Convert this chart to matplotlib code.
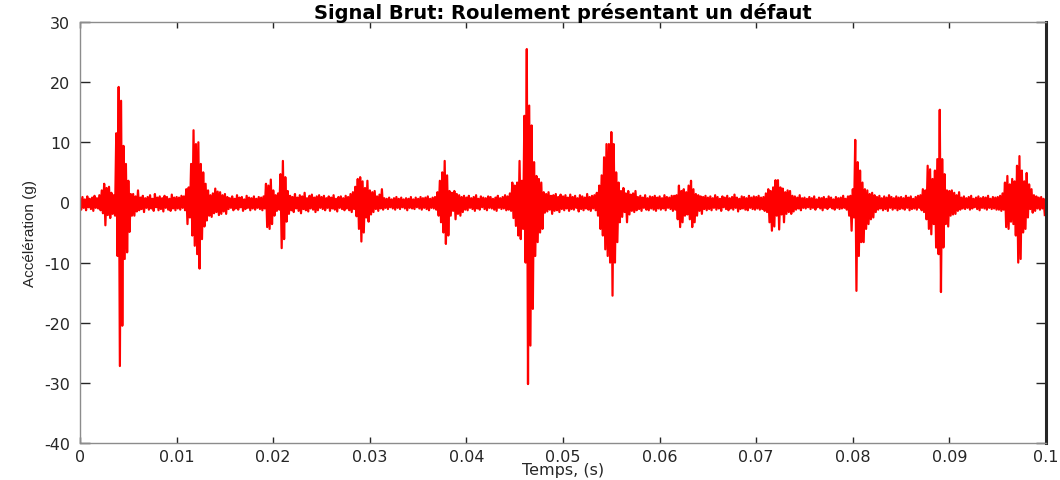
import numpy as np
import matplotlib
matplotlib.use("Agg")
import matplotlib.pyplot as plt

plt.rcParams["axes.unicode_minus"] = False
plt.rcParams["font.family"] = ["DejaVu Sans"]

# Signal brut : une colonne toutes les 0.25 ms,
# valeur haute (hi) et valeur basse (lo) de l'enveloppe dans chaque colonne
dt = 0.00025

hi = [
    0.7, 0.9, 0.5, 1.0, 0.6, 0.8, 1.1, 0.7, 1.2, 2.0, 3.1, 2.4, 2.6, 1.6, 1.2, 11.5, 19.2, 16.9, 9.4, 6.4,
    3.6, 1.4, 1.4, 1.0, 2.0, 0.8, 1.1, 0.7, 0.9, 1.2, 0.6, 1.4, 0.8, 1.0, 0.7, 1.1, 0.9, 0.6, 1.3, 0.8,
    0.9, 0.8, 1.1, 1.0, 2.2, 2.5, 6.4, 12.0, 9.7, 10.0, 6.4, 5.0, 3.1, 2.0, 1.2, 1.5, 2.3, 1.8, 1.7, 1.2,
    1.4, 0.9, 0.7, 1.0, 0.6, 1.2, 0.8, 0.9, 0.5, 1.1, 0.8, 0.7, 1.0, 0.6, 0.9, 0.8, 1.0, 3.1, 2.8, 3.8,
    2.0, 1.2, 1.5, 4.7, 6.9, 4.2, 1.9, 1.1, 0.9, 1.4, 0.8, 1.2, 1.0, 1.6, 0.7, 1.1, 1.3, 0.8, 1.0, 1.2,
    0.9, 1.1, 0.7, 1.0, 0.8, 1.2, 0.6, 0.9, 1.0, 0.7, 1.1, 0.9, 1.4, 1.7, 2.6, 3.9, 4.2, 3.5, 2.4, 3.6,
    2.0, 1.7, 1.9, 1.0, 1.3, 2.2, 0.7, 0.6, 0.8, 0.5, 0.7, 0.9, 0.6, 0.8, 0.5, 0.7, 0.6, 0.9, 0.5, 0.8,
    0.6, 0.9, 0.7, 0.8, 1.0, 0.6, 0.8, 0.9, 1.7, 3.6, 5.0, 6.9, 4.5, 1.9, 1.6, 1.9, 1.4, 1.2, 0.9, 1.1,
    0.8, 1.1, 0.7, 0.9, 1.2, 0.6, 1.0, 0.8, 0.7, 1.0, 0.9, 0.6, 0.8, 1.1, 0.7, 0.9, 1.2, 1.0, 1.5, 3.3,
    2.8, 3.3, 6.9, 3.6, 14.4, 25.5, 16.1, 12.8, 6.7, 4.4, 3.9, 3.3, 1.7, 1.4, 1.7, 1.1, 1.2, 1.4, 0.9, 1.3,
    1.0, 1.2, 0.8, 1.3, 0.9, 1.1, 0.7, 1.2, 1.0, 0.8, 1.4, 0.9, 1.1, 1.2, 1.6, 2.8, 4.5, 7.5, 9.7, 9.7,
    11.7, 9.7, 5.0, 3.3, 1.9, 2.4, 1.5, 1.9, 1.3, 1.5, 1.9, 0.9, 1.1, 0.8, 1.2, 0.7, 1.0, 0.9, 1.1, 0.8,
    1.0, 0.7, 1.2, 0.9, 0.8, 1.1, 1.1, 1.2, 2.8, 1.9, 2.2, 1.7, 2.8, 3.6, 2.2, 1.4, 1.2, 1.0, 0.9, 1.1,
    0.8, 1.0, 0.7, 1.2, 0.9, 0.6, 1.0, 0.8, 1.1, 0.7, 0.9, 1.3, 0.8, 0.6, 1.0, 0.9, 0.7, 1.1, 0.8, 1.0,
    0.9, 1.1, 0.8, 0.9, 1.5, 2.2, 1.9, 2.5, 3.7, 3.7, 2.5, 2.3, 1.7, 2.0, 1.9, 1.1, 1.0, 0.8, 1.2, 0.7,
    0.8, 0.6, 0.9, 0.7, 1.0, 0.5, 0.8, 0.7, 0.9, 0.6, 1.0, 0.8, 0.5, 0.9, 0.7, 0.8, 1.1, 0.6, 1.0, 1.1,
    2.2, 10.4, 6.7, 5.3, 3.3, 2.2, 2.0, 1.4, 1.6, 1.2, 0.9, 1.1, 0.7, 1.0, 0.8, 1.2, 0.9, 0.7, 1.0, 0.8,
    0.9, 0.7, 1.1, 0.8, 1.0, 0.6, 0.9, 1.1, 1.2, 2.2, 2.0, 6.1, 5.5, 3.9, 5.3, 7.2, 15.4, 7.2, 4.7, 2.0,
    1.9, 2.0, 1.6, 1.2, 1.7, 0.8, 1.0, 0.7, 0.9, 1.1, 0.6, 0.8, 1.0, 0.7, 0.9, 0.8, 1.1, 0.6, 0.9, 0.8,
    0.9, 1.1, 1.5, 3.3, 4.4, 3.0, 3.9, 3.5, 6.1, 7.7, 5.3, 3.5, 4.9, 3.0, 2.2, 1.2, 1.0, 0.8, 0.9, 0.6,
]

lo = [
    -1.2, -0.9, -1.3, -0.8, -1.1, -1.4, -0.9, -1.0, -1.3, -1.8, -3.8, -2.1, -2.6, -1.9, -2.2, -8.9, -27.2, -20.5, -9.4, -8.3,
    -4.9, -2.2, -2.2, -1.5, -1.3, -1.1, -1.6, -0.9, -1.2, -1.0, -1.4, -0.8, -1.3, -1.1, -1.5, -0.9, -1.2, -1.4, -1.0, -1.3,
    -1.0, -1.2, -0.9, -1.3, -3.6, -2.5, -5.5, -7.2, -8.6, -11.0, -6.1, -4.0, -3.0, -2.2, -2.4, -1.8, -1.6, -2.1, -1.9, -1.5,
    -1.9, -1.1, -0.9, -1.3, -1.0, -1.2, -0.8, -1.4, -1.1, -0.9, -1.3, -1.0, -1.2, -0.9, -1.1, -1.3, -1.0, -4.1, -4.4, -3.6,
    -2.2, -1.4, -1.2, -7.6, -6.1, -3.2, -1.9, -1.3, -1.6, -1.0, -1.4, -1.8, -1.1, -1.3, -1.5, -1.0, -1.2, -1.6, -1.3, -0.9,
    -1.1, -1.3, -0.9, -1.4, -1.0, -1.2, -1.5, -0.9, -1.1, -1.3, -1.0, -1.3, -1.6, -1.1, -2.3, -4.4, -6.5, -5.0, -2.5, -3.2,
    -2.0, -1.6, -1.1, -1.4, -1.0, -1.2, -0.9, -1.1, -0.8, -1.0, -1.2, -0.9, -1.1, -0.8, -1.0, -1.3, -0.9, -1.0, -1.1, -0.8,
    -1.0, -1.2, -0.9, -1.1, -1.3, -0.9, -1.0, -1.2, -2.2, -3.3, -5.0, -6.9, -5.5, -2.2, -1.4, -2.8, -1.9, -2.2, -1.6, -1.2,
    -1.3, -0.9, -1.1, -1.4, -1.0, -1.2, -0.8, -1.1, -1.3, -0.9, -1.0, -1.2, -1.4, -0.9, -1.1, -1.0, -1.3, -1.2, -1.4, -2.6,
    -3.9, -5.5, -6.1, -4.4, -10.0, -30.2, -23.8, -17.7, -8.9, -6.6, -5.0, -4.4, -1.7, -1.5, -1.2, -1.9, -1.4, -1.3, -1.6, -1.1,
    -1.3, -1.0, -1.4, -1.1, -1.2, -0.9, -1.5, -1.1, -1.3, -1.0, -1.2, -1.4, -1.0, -1.3, -2.2, -4.4, -5.5, -7.8, -8.9, -10.0,
    -15.5, -10.0, -6.6, -3.3, -2.4, -1.6, -3.3, -2.0, -1.4, -1.6, -1.3, -1.1, -1.4, -0.9, -1.2, -1.3, -1.0, -1.2, -1.4, -1.0,
    -1.2, -1.0, -1.3, -0.9, -1.1, -1.4, -1.2, -2.8, -4.1, -3.3, -2.2, -2.0, -2.8, -4.1, -3.3, -2.2, -1.4, -1.9, -1.1, -1.3,
    -1.1, -1.3, -0.9, -1.2, -1.0, -1.4, -0.8, -1.1, -1.3, -1.0, -1.2, -0.9, -1.5, -1.1, -1.0, -1.2, -1.3, -0.9, -1.1, -1.2,
    -1.0, -1.2, -1.1, -1.4, -1.6, -3.3, -4.7, -4.0, -2.2, -4.5, -2.0, -3.3, -1.9, -1.6, -1.9, -1.5, -1.2, -1.0, -1.3, -0.9,
    -1.0, -0.8, -1.1, -0.9, -1.2, -0.8, -1.0, -1.3, -0.9, -1.1, -0.8, -1.0, -1.2, -0.9, -1.1, -1.0, -0.9, -1.2, -2.2, -4.7,
    -2.5, -14.7, -8.9, -6.6, -6.6, -4.4, -3.6, -2.8, -2.5, -1.6, -1.2, -1.0, -1.3, -1.1, -1.4, -0.9, -1.2, -1.0, -1.3, -1.1,
    -1.0, -1.2, -0.9, -1.3, -1.1, -1.0, -1.2, -0.9, -1.3, -1.6, -2.8, -4.4, -5.3, -3.6, -7.5, -8.6, -14.9, -7.5, -3.6, -4.0,
    -2.2, -2.0, -1.9, -1.4, -1.2, -1.0, -1.1, -0.9, -1.2, -1.0, -0.8, -1.1, -1.3, -0.9, -1.0, -1.2, -0.9, -1.1, -1.0, -1.2,
    -1.2, -1.4, -1.2, -4.1, -4.4, -3.2, -3.6, -5.5, -10.0, -9.4, -5.0, -4.4, -2.5, -1.1, -1.7, -1.4, -1.0, -1.2, -1.0, -2.1,
]

xticks = [0, 0.01, 0.02, 0.03, 0.04, 0.05, 0.06, 0.07, 0.08, 0.09, 0.1]
xticklabels = ["0", "0.01", "0.02", "0.03", "0.04", "0.05", "0.06", "0.07", "0.08", "0.09", "0.1"]
yticks = [-40, -30, -20, -10, 0, 10, 20, 30]

# alternate high / low inside each column so the line sweeps the envelope
n = len(hi)
t = np.empty(2 * n)
y = np.empty(2 * n)
t[0::2] = np.arange(n) * dt
t[1::2] = np.arange(n) * dt + dt / 2
y[0::2] = hi
y[1::2] = lo

fig = plt.figure(figsize=(10.6, 4.81), dpi=100)
ax = fig.add_axes([0.0755, 0.0769, 0.9113, 0.8753])

ax.plot(t, y, color="#ff0000", linewidth=1.6)

ax.set_xlim(0, 0.1)
ax.set_ylim(-40, 30)
ax.set_xticks(xticks)
ax.set_xticklabels(xticklabels)
ax.set_yticks(yticks)

ax.tick_params(axis="both", direction="in", colors="#262626", labelsize=11.5,
               top=True, right=True, width=1.0)
ax.tick_params(axis="x", length=4.5, pad=4)
ax.tick_params(axis="y", length=7.5, pad=7)
for lab in ax.get_xticklabels() + ax.get_yticklabels():
    lab.set_color("#262626")

for side in ["left", "bottom", "top"]:
    ax.spines[side].set_color("#8c8c8c")
    ax.spines[side].set_linewidth(1.0)
ax.spines["right"].set_color("#262626")
ax.spines["right"].set_linewidth(2.2)

ax.set_title("Signal Brut: Roulement présentant un défaut", fontsize=14,
             fontweight="bold", color="black", pad=3)
ax.set_xlabel("Temps, (s)", fontsize=11.5, color="#262626", labelpad=-1)
ax.set_ylabel("Accélération (g)", fontsize=11, color="#262626", labelpad=5,
              family=["Liberation Sans", "DejaVu Sans"])

fig.savefig("out.png", dpi=100, facecolor="white")
